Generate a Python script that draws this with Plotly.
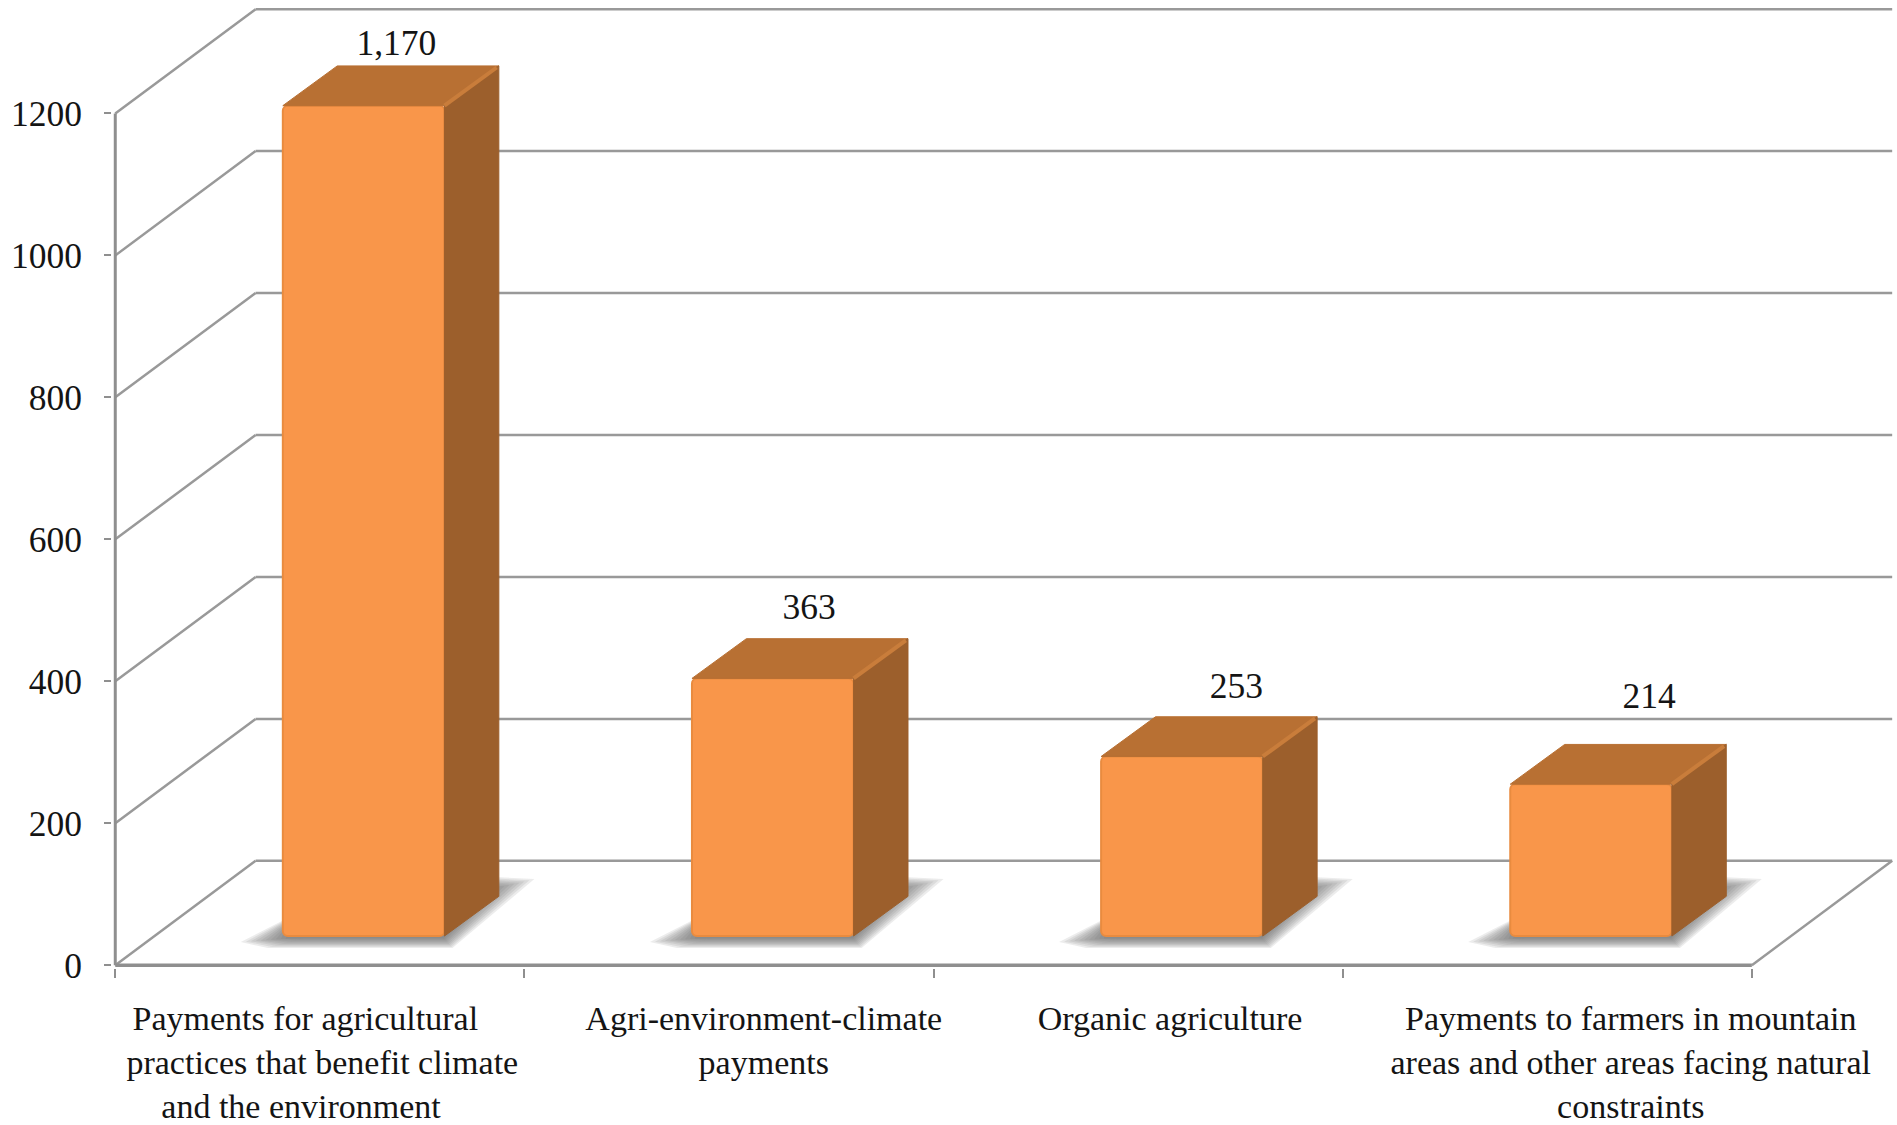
import plotly.graph_objects as go

NB = "\u00a0"
categories = [
    "Payments for agricultural" + NB * 4 + "<br>practices that benefit climate<br>and the environment" + NB * 5,
    "Agri-environment-climate<br>payments",
    "Organic agriculture",
    "Payments to farmers in mountain<br>areas and other areas facing natural<br>constraints",
]
values = [1170, 363, 253, 214]
y_ticks = [0, 200, 400, 600, 800, 1000, 1200]

# --- geometry (data units) ---
PX_X, PX_Y = 409.2, 0.7098            # pixels per data unit
FLOOR_DX, FLOOR_DY = 0.343, 147       # depth of the floor / walls
BAR_W, BAR_C = 0.395, 0.607           # bar width, centre inside a category
BAR_BASE = 41                         # bar stands this far into the floor
BAR_DX, BAR_DY = 0.133, 56            # bar depth
X_MAX = len(values)
label_centres = [0.506, 1.585, 2.578, 3.704]
value_dx = [0.08, 0.089, 0.133, 0.142]
value_dy = [28.5, 40.5, 39.5, 64.5]

GRID = "#999999"
AXIS = "#8f8f8f"
FRONT = "#F9964A"
EDGE = "#E98B3F"
TOP = "#B87033"
TOP_HI = "#C97D3B"
SIDE = "#9C5F2C"
FONT = "Liberation Serif"
TXT = "#141414"
LABEL_SIZE = 35.5
CAT_SIZE = 34

shapes = []


def seg(x0, y0, x1, y1, color=GRID, width=2.5):
    shapes.append(dict(type="line", xref="x", yref="y", layer="below",
                       x0=x0, y0=y0, x1=x1, y1=y1, line=dict(color=color, width=width)))


# walls: back gridlines and slanted side lines
for t in y_ticks:
    seg(FLOOR_DX, t + FLOOR_DY, X_MAX + FLOOR_DX, t + FLOOR_DY)
    seg(0, t, FLOOR_DX, t + FLOOR_DY)
seg(X_MAX, 0, X_MAX + FLOOR_DX, FLOOR_DY)
seg(0, 0, 0, max(y_ticks), AXIS, 3)
seg(0, 0, X_MAX, 0, AXIS, 3.5)

# soft floor shadows
for i in range(len(values)):
    L = i + BAR_C - BAR_W / 2
    R = i + BAR_C + BAR_W / 2
    for k in range(10):
        pts = [
            (L * PX_X - 42 + 5 * k, -6 + 0.4 * k),
            (L * PX_X - 15 + 4 * k, -12 + 1.1 * k),
            (R * PX_X + 8 - k, -12 + 1.1 * k),
            (R * PX_X + 90 - 5 * k, 57 - 1.2 * k),
            (R * PX_X + 50 - 3 * k, 59 - 1.2 * k),
            (L * PX_X + 5, 18 - k),
        ]
        path = "M " + " L ".join(
            f"{px / PX_X:.4f},{BAR_BASE + py / PX_Y:.2f}" for px, py in pts) + " Z"
        shapes.append(dict(type="path", xref="x", yref="y", layer="below", path=path,
                           fillcolor="rgba(95,95,95,0.12)", line=dict(width=0)))

fig = go.Figure()

centres = [i + BAR_C for i in range(len(values))]
fig.add_trace(go.Bar(
    x=centres, y=values, base=BAR_BASE, width=BAR_W,
    marker=dict(color=FRONT, line=dict(color=EDGE, width=2), cornerradius=5),
    hoverinfo="skip",
))

for c, v in zip(centres, values):
    L, R = c - BAR_W / 2, c + BAR_W / 2
    T, B = BAR_BASE + v, BAR_BASE
    fig.add_trace(go.Scatter(
        x=[L, L + BAR_DX, R + BAR_DX, R, L],
        y=[T, T + BAR_DY, T + BAR_DY, T, T],
        mode="lines", fill="toself", fillcolor=TOP,
        line=dict(color=TOP, width=1), hoverinfo="skip",
    ))
    fig.add_trace(go.Scatter(
        x=[R, R + BAR_DX, R + BAR_DX, R, R],
        y=[T, T + BAR_DY, B + BAR_DY, B, T],
        mode="lines", fill="toself", fillcolor=SIDE,
        line=dict(color=SIDE, width=1), hoverinfo="skip",
    ))
    fig.add_trace(go.Scatter(
        x=[R, R + 0.96 * BAR_DX], y=[T, T + 0.96 * BAR_DY],
        mode="lines", line=dict(color=TOP_HI, width=4), hoverinfo="skip",
    ))

fig.add_trace(go.Scatter(
    x=[c + d for c, d in zip(centres, value_dx)],
    y=[BAR_BASE + v + BAR_DY + d for v, d in zip(values, value_dy)],
    text=[f"{v:,}" for v in values],
    mode="text", textposition="middle center",
    textfont=dict(family=FONT, size=LABEL_SIZE, color=TXT),
    hoverinfo="skip", cliponaxis=False,
))

W, H = 1897, 1125
x0, x1 = -0.008, 4.345
y0, y1 = -4, 1350
left = 115 + x0 * PX_X
right = 115 + x1 * PX_X
bottom = 965.5 - y0 * PX_Y
top = 965.5 - y1 * PX_Y

fig.update_layout(
    width=W, height=H,
    margin=dict(l=left, r=W - right, t=top, b=H - bottom, pad=0, autoexpand=False),
    paper_bgcolor="white", plot_bgcolor="white",
    showlegend=False, shapes=shapes,
    font=dict(family=FONT, size=LABEL_SIZE, color=TXT),
    xaxis=dict(
        range=[x0, x1], showgrid=False, zeroline=False, showline=False,
        tickmode="array", tickvals=label_centres, ticktext=categories,
        ticks="", tickangle=0, ticklabelstandoff=27,
        tickfont=dict(family=FONT, size=CAT_SIZE, color=TXT),
        minor=dict(tickmode="array", tickvals=list(range(X_MAX + 1)),
                   ticks="outside", ticklen=9, tickwidth=2, tickcolor=AXIS, showgrid=False),
    ),
    yaxis=dict(
        range=[y0, y1], showgrid=False, zeroline=False, showline=False,
        tickmode="array", tickvals=y_ticks, ticktext=[str(t) for t in y_ticks],
        ticks="outside", ticklen=7, tickwidth=2, tickcolor=AXIS, ticklabelstandoff=15,
        tickfont=dict(family=FONT, size=LABEL_SIZE, color=TXT),
    ),
)

fig.write_html("out.html", config=dict(displayModeBar=False),
               post_script="document.body.style.margin='0';document.body.style.overflow='hidden';")
